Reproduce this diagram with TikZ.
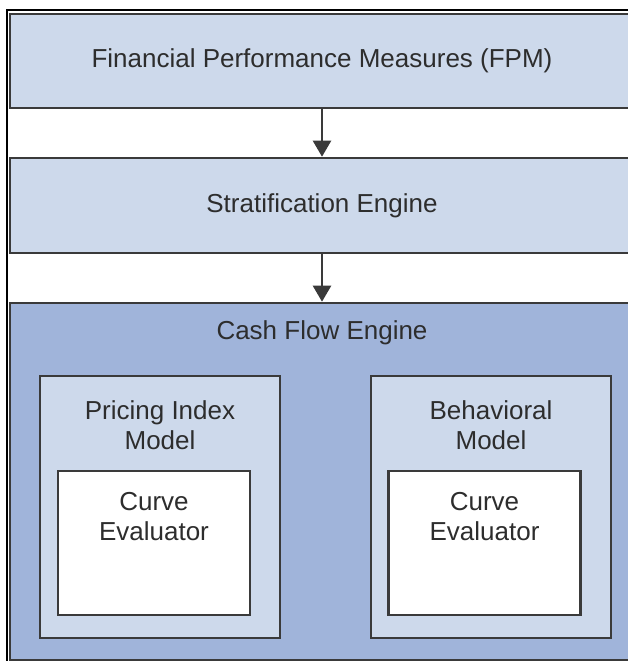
\documentclass[tikz,border=0pt]{standalone}
\usepackage{fontspec}
\setmainfont{Liberation Sans}
\usetikzlibrary{arrows.meta}

\definecolor{paleblue}{RGB}{205,217,235}
\definecolor{midblue}{RGB}{160,180,218}
\definecolor{edgegray}{RGB}{58,58,58}
\definecolor{textgray}{RGB}{45,45,45}

\begin{document}
\begin{tikzpicture}[x=1pt, y=-1pt, font=\fontsize{26}{30}\selectfont, text=textgray]
  % Define styles
  \tikzstyle{layer} = [rectangle, draw=edgegray, line width=2.6pt, fill=paleblue, minimum width=624pt, inner sep=0pt, align=center]
  \tikzstyle{engine} = [rectangle, draw=edgegray, line width=2.6pt, fill=midblue, minimum width=624pt, minimum height=357pt, inner sep=0pt]
  \tikzstyle{model} = [rectangle, draw=edgegray, line width=2.6pt, fill=paleblue, minimum width=240pt, minimum height=262pt, inner sep=0pt]
  \tikzstyle{evaluator} = [rectangle, draw=edgegray, line width=2.6pt, fill=white, minimum width=192pt, minimum height=144pt, inner sep=0pt]
  \tikzstyle{caption} = [align=center, inner sep=0pt]
  \tikzstyle{flow} = [draw=edgegray, line width=2.4pt, -{Triangle[width=18pt, length=16pt]}]

  \clip (0,0) rectangle (628,661);

  % Outer frame
  \draw[black, line width=1.5pt] (7,10) rectangle (700,720);

  % FPM
  \node[layer, minimum height=94pt] (fpm) at (322,61) {Financial Performance Measures (FPM)};

  % Stratification
  \node[layer, minimum height=95pt] (strat) at (322,205.5) {Stratification Engine};

  % Cash flow engine
  \node[engine] (cash) at (322,481.5) {};
  \node[caption] (cashlbl) at (322,333) {Cash Flow Engine};

  % Pricing index model
  \node[model] (pricing) at (160,507) {};
  \node[caption] (pricinglbl) at (160,425) {Pricing Index\\Model};
  \node[evaluator] (curveA) at (154,543) {};
  \node[caption] (curveAlbl) at (154,517) {Curve\\Evaluator};

  % Behavioral model
  \node[model] (behav) at (491,507) {};
  \node[caption] (behavlbl) at (491,425) {Behavioral\\Model};
  \node[evaluator] (curveB) at (484.5,543) {};
  \node[caption] (curveBlbl) at (484.5,517) {Curve\\Evaluator};

  % Arrows
  \draw[flow] (fpm.south) -- (strat.north);
  \draw[flow] (strat.south) -- (cash.north);
\end{tikzpicture}
\end{document}
